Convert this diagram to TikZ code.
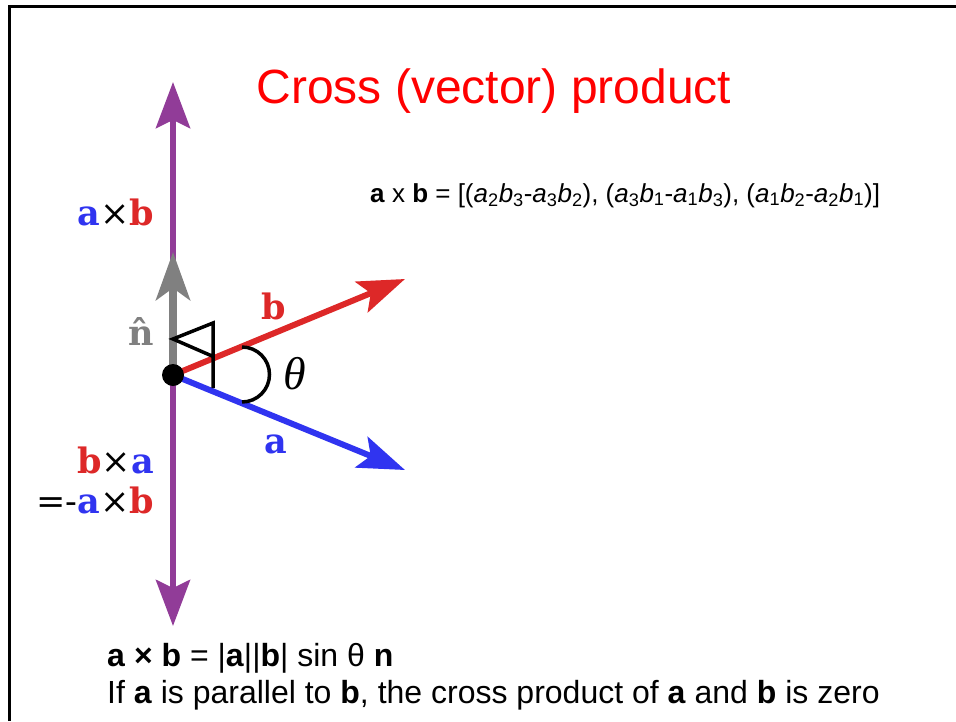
\documentclass[tikz,border=0pt]{standalone}
\usepackage{fontspec}
\setmainfont{Liberation Sans}
\newfontfamily\vecfont{DejaVu Serif}
\newfontfamily\thetafont{Liberation Serif}
\usetikzlibrary{arrows.meta,positioning}
\definecolor{vpurple}{HTML}{913C98}
\definecolor{vred}{HTML}{DD2828}
\definecolor{vblue}{HTML}{3034F0}
\definecolor{vgray}{HTML}{808080}
\definecolor{titlered}{HTML}{FF0000}
\newcommand{\comp}[2]{\textit{#1}\textsubscript{#2}}
\tikzset{
  axis/.style={
    draw=vpurple,
    line width=6pt,
    -{Stealth[length=46pt,width=34pt,inset=8pt]}
  },
  unitvec/.style={
    draw=vgray,
    line width=8pt,
    -{Stealth[length=48pt,width=34pt,inset=12pt]}
  },
  vec/.style={
    line width=6pt,
    -{Stealth[length=47pt,width=33pt,inset=10pt]}
  },
  marker/.style={
    draw=black,
    line width=3.5pt
  },
  tag/.style={
    inner sep=0pt,
    font=\vecfont\bfseries\fontsize{35}{40}\selectfont
  },
  title/.style={
    inner sep=0pt,
    text=titlered,
    font=\fontsize{48}{56}\selectfont
  },
  formula/.style={
    inner sep=0pt,
    font=\fontsize{26}{30}\selectfont
  },
  caption/.style={
    inner sep=0pt,
    font=\fontsize{32}{37}\selectfont
  }
}

\begin{document}
\begin{tikzpicture}[x=1pt,y=-1pt]
  \useasboundingbox (0,0) rectangle (956,721);
  \draw[line width=3pt] (9.5,721) -- (9.5,6.5) -- (956,6.5);

  \coordinate (O) at (173,375);
  \coordinate (up) at (173,82);
  \coordinate (down) at (173,626);
  \coordinate (ntip) at (173,252);
  \coordinate (btip) at (405,279);
  \coordinate (atip) at (405,470);

  \draw[axis] (O) -- (up);
  \draw[axis] (O) -- (down);
  \draw[unitvec] (O) -- (ntip);
  \draw[vec, vred] (O) -- (btip);
  \draw[vec, vblue] (O) -- (atip);

  % right angle and theta
  \draw[marker, line join=miter] (212,356) -- (173,339) -- (213,323) -- (213,388);
  \draw[marker] (242,347) arc[start angle=90, end angle=-90, radius=27.5pt];
  \fill (O) circle[radius=11pt];

  \node[title, anchor=base] (title) at (494,103) {Cross (vector) product};
  \node[formula, anchor=base west] (comps) at (370,202)
    {\textbf{a} x \textbf{b} = [(\comp{a}{2}\comp{b}{3}-\comp{a}{3}\comp{b}{2}),
     (\comp{a}{3}\comp{b}{1}-\comp{a}{1}\comp{b}{3}),
     (\comp{a}{1}\comp{b}{2}-\comp{a}{2}\comp{b}{1})]};

  \node[tag, anchor=base east] (axb) at (154,225)
    {\textcolor{vblue}{a}{\mdseries ×}\textcolor{vred}{b}};
  \node[tag, text=vgray, anchor=base east] (nhat) at (154,345) {\^{n}};
  \node[tag, text=vred, anchor=base] (blabel) at (274,319) {b};
  \node[tag, text=vblue, anchor=base] (alabel) at (276,453) {a};
  \node[inner sep=0pt, font=\thetafont\itshape\fontsize{46}{50}\selectfont] (theta) at (295,374) {θ};
  \node[tag, anchor=base east] (bxa) at (154,473)
    {\textcolor{vred}{b}{\mdseries ×}\textcolor{vblue}{a}};
  \node[tag, anchor=base east] (minus) at (154,513)
    {{\mdseries =-}\textcolor{vblue}{a}{\mdseries ×}\textcolor{vred}{b}};

  \node[caption, anchor=base west] (magn) at (107,666)
    {\textbf{a} \textbf{×} \textbf{b} = |\textbf{a}||\textbf{b}| sin θ \textbf{n}};
  \node[caption, anchor=base west] (zero) at (107,703)
    {If \textbf{a} is parallel to \textbf{b}, the cross product of \textbf{a} and \textbf{b} is zero};
\end{tikzpicture}
\end{document}
